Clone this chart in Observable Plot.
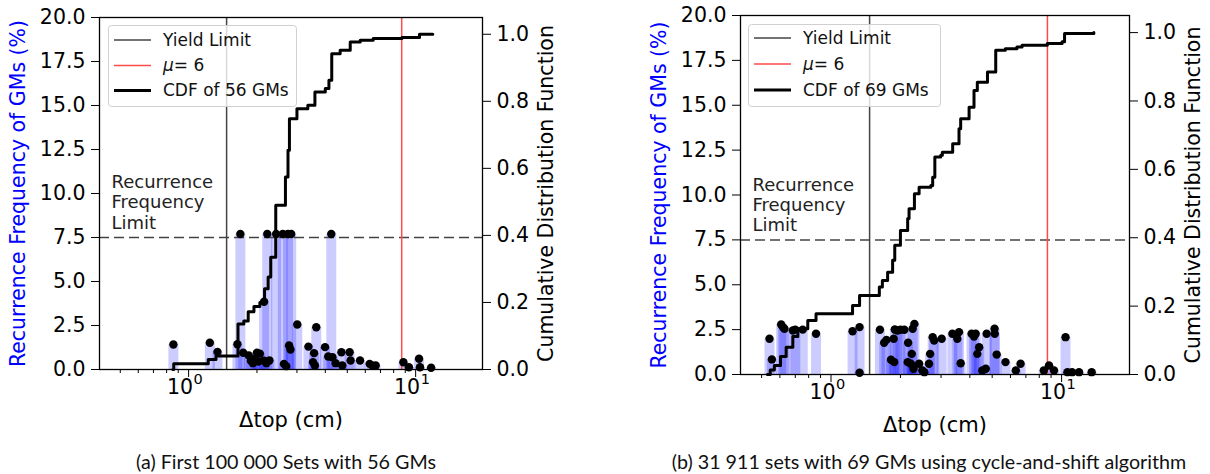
<!DOCTYPE html>
<html><head><meta charset="utf-8">
<script src="https://cdn.jsdelivr.net/npm/d3@7"></script>
<script src="https://cdn.jsdelivr.net/npm/@observablehq/plot@0.6"></script>
<style>
body{margin:0;background:#fff;}
#wrap{position:relative;width:1210px;height:474px;overflow:hidden;font-family:"DejaVu Sans";background:#fff;}
.panel{position:absolute;top:0;}
.legend{position:absolute;}
.caption{position:absolute;font-family:Lato;font-size:19.7px;line-height:24px;transform:translateX(-50%);white-space:nowrap;top:450px;color:#111;}
</style></head><body><div id="wrap"></div>
<script>
// ---------- data ----------
// Panel (a): Δtop (cm) and recurrence frequency (%) of each GM
const aDelta = [0.857,1.24,1.34,1.64,1.69,1.74,1.84,1.88,1.92,1.96,2.0,2.03,2.06,2.15,2.15,2.2,2.22,2.27,2.43,2.60,2.63,2.69,2.74,2.77,2.81,2.83,3.01,3.37,3.53,3.57,3.6,3.65,3.99,4.12,4.25,4.3,4.44,4.71,4.75,5.12,5.17,5.69,6.27,6.45,6.67,8.83,9.34,10.35,10.45,11.7];
const aFreq  = [1.42,1.52,1.0,1.44,7.7,0.95,0.8,0.5,0.36,0.6,0.95,0.45,0.9,3.85,0.5,0.36,7.7,0.51,7.7,7.7,0.32,0.19,7.7,1.36,1.14,7.7,2.56,1.3,0.42,0.93,0.23,2.4,1.27,0.74,7.7,0.7,0.36,0.98,0.23,0.98,0.51,0.51,0.32,0.23,0.23,0.41,0.13,0.61,0.13,0.1];
// Panel (a): CDF steps (Δtop, cumulative value)
const aCdfX = [0.852,0.86,1.22,1.32,1.65,1.75,1.83,1.94,2.06,2.16,2.24,2.30,2.42,2.67,2.74,2.78,3.00,3.35,3.60,4.00,4.15,4.27,4.65,5.15,5.70,6.50,8.70,10.4,11.9];
const aCdfC = [0,0.017,0.030,0.040,0.136,0.145,0.172,0.188,0.200,0.241,0.276,0.335,0.490,0.574,0.654,0.748,0.778,0.788,0.828,0.838,0.863,0.942,0.952,0.977,0.982,0.987,0.990,1.0,1.0];

// Panel (b)
const bDelta = [0.541,0.554,0.608,0.618,0.628,0.683,0.70,0.754,0.861,1.24,1.33,1.33,1.63,1.70,1.74,1.82,1.87,1.88,1.89,1.94,2.0,2.08,2.15,2.16,2.22,2.24,2.26,2.28,2.30,2.41,2.49,2.54,2.66,2.69,2.76,2.80,3.02,3.36,3.53,3.59,3.65,4.07,4.17,4.24,4.31,4.39,4.53,4.69,4.73,5.12,5.13,5.23,5.71,6.33,6.64,8.37,8.82,9.27,10.4,10.6,11.1,11.9,13.5];
const bFreq  = [1.99,0.84,2.79,2.64,2.55,2.45,2.5,2.5,2.27,2.41,2.64,0.1,2.49,1.77,1.93,0.82,1.99,0.69,2.51,2.45,2.49,2.49,0.69,1.77,0.6,1.15,2.55,0.32,2.82,0.6,0.22,0.13,0.6,1.15,2.08,1.89,1.99,2.27,1.99,2.36,0.63,2.27,2.12,2.27,1.15,1.52,0.22,0.32,2.27,2.55,2.27,1.11,0.69,0.22,0.6,0.22,0.5,0.22,2.08,0.13,0.13,0.13,0.13];
const bCdfX = [0.53,0.545,0.568,0.604,0.639,0.683,0.718,0.793,0.861,1.24,1.33,1.62,1.67,1.76,1.85,1.89,2.0,2.15,2.18,2.30,2.41,2.71,2.76,2.82,2.99,3.04,3.37,3.59,3.65,3.97,4.17,4.31,4.77,5.18,5.7,6.4,6.74,8.67,10.05,10.3,13.8];
const bCdfC = [0,0.013,0.026,0.053,0.08,0.111,0.134,0.158,0.178,0.202,0.231,0.256,0.275,0.299,0.334,0.378,0.421,0.456,0.485,0.529,0.548,0.553,0.577,0.636,0.641,0.65,0.675,0.719,0.748,0.782,0.831,0.855,0.885,0.948,0.953,0.958,0.963,0.968,0.973,0.997,1.0];

const yieldLimit = 1.47;      // cm
const muLine = 8.68;          // cm (μ = 6)
const freqLimit = 7.5;        // %
const yTicks = [0,2.5,5,7.5,10,12.5,15,17.5,20];
const cdfTicks = [0,0.2,0.4,0.6,0.8,1.0];
const xMajor = [1,10];
const xExponents = ["0","1"];
const xMinor = [0.5,0.6,0.7,0.8,0.9,2,3,4,5,6,7,8,9];
const xDomain = [0.405,19.7];
const cdfMax = 1.05;

// ---------- drawing ----------
const K = 20 / cdfMax;
const FS = 20.5;
function makePanel(cfg){
  const dots = cfg.dx.map((x,i)=>({x, f: cfg.df[i]}));
  const cdf = cfg.cx.map((x,i)=>({x, c: cfg.cc[i]}));
  return Plot.plot({
    width: cfg.width, height: 440,
    marginLeft: cfg.ml, marginRight: cfg.mr, marginTop: cfg.mt, marginBottom: 440 - cfg.bottom,
    style: {fontFamily: "DejaVu Sans", fontSize: FS + "px", color: "black", background: "transparent", overflow: "visible"},
    x: {type: "log", domain: xDomain},
    y: {domain: [0, 20]},
    marks: [
      Plot.ruleX(dots, {x: "x", y1: 0, y2: "f", stroke: "blue", strokeOpacity: 0.2, strokeWidth: 10}),
      Plot.ruleY([freqLimit], {stroke: "#444", strokeWidth: 1.5, strokeDasharray: "10,5"}),
      Plot.ruleX([yieldLimit], {stroke: "#444", strokeWidth: 1.5}),
      Plot.ruleX([muLine], {stroke: "#ff4a4a", strokeWidth: 1.5}),
      Plot.line(cdf, {x: "x", y: d => d.c * K, curve: "step-after", stroke: "black", strokeWidth: 3}),
      Plot.dot(dots, {x: "x", y: "f", r: 4.2, fill: "black"}),
      Plot.text([freqLimit], {y: d => d, text: () => "Recurrence\nFrequency\nLimit", frameAnchor: "left", textAnchor: "start", lineAnchor: "bottom", dx: 12, dy: -9, fontSize: 18, lineHeight: 1.12, fill: "#222"}),
      Plot.axisY({ticks: yTicks, tickFormat: d => d.toFixed(1), tickSize: 8, tickPadding: 6, label: null, fontSize: FS}),
      Plot.axisY({anchor: "right", ticks: cdfTicks.map(c => c * K), tickFormat: d => (d / K).toFixed(1), tickSize: 8, tickPadding: 6, label: null, fontSize: FS}),
      Plot.axisX({ticks: xMajor, tickFormat: () => "", tickSize: 8, label: null}),
      Plot.axisX({ticks: xMinor, tickFormat: () => "", tickSize: 4, label: null}),
      Plot.text(xMajor, {x: d => d, text: () => "10", frameAnchor: "bottom", textAnchor: "end", lineAnchor: "middle", dx: 4.5, dy: 18, fontSize: FS}),
      Plot.text(xMajor, {x: d => d, text: (d, i) => xExponents[i], frameAnchor: "bottom", textAnchor: "start", lineAnchor: "middle", dx: 5, dy: 10, fontSize: 14.5}),
      Plot.text(["Recurrence Frequency of GMs (%)"], {text: d => d, frameAnchor: "left", textAnchor: "middle", rotate: -90, dx: -81, fill: "blue", fontSize: FS}),
      Plot.text(["Cumulative Distribution Function"], {text: d => d, frameAnchor: "right", textAnchor: "middle", rotate: -90, dx: 64, fill: "black", fontSize: FS}),
      Plot.text(["\u0394top (cm)"], {text: d => d, frameAnchor: "bottom", textAnchor: "middle", lineAnchor: "middle", dy: 51, fontSize: 21}),
      Plot.frame({stroke: "black", strokeWidth: 1.3})
    ]
  });
}

const wrap = document.getElementById("wrap");
const pa = makePanel({dx: aDelta, df: aFreq, cx: aCdfX, cc: aCdfC, width: 600, ml: 99, mr: 118, mt: 17, bottom: 369});
pa.classList.add("panel"); pa.style.left = "0px";
const pb = makePanel({dx: bDelta, df: bFreq, cx: bCdfX, cc: bCdfC, width: 610, ml: 140, mr: 81, mt: 15, bottom: 374});
pb.classList.add("panel"); pb.style.left = "600px";
wrap.appendChild(pa); wrap.appendChild(pb);

function legend(left, top, w, h, n, rows){
  const items = [
    {label: "Yield Limit", stroke: "#444", sw: 1.5},
    {label: "<tspan font-style='italic'>\u03BC</tspan>= 6", stroke: "#ff4a4a", sw: 1.5},
    {label: "CDF of " + n + " GMs", stroke: "black", sw: 3}
  ];
  let s = `<svg class="legend" style="left:${left}px;top:${top}px" width="${w}" height="${h}" xmlns="http://www.w3.org/2000/svg">`;
  s += `<rect x="0.5" y="0.5" width="${w-1}" height="${h-1}" rx="3" fill="white" fill-opacity="0.8" stroke="#d0d0d0"/>`;
  items.forEach((it,i)=>{
    const y = rows[i];
    s += `<line x1="6" x2="43" y1="${y}" y2="${y}" stroke="${it.stroke}" stroke-width="${it.sw}"/>`;
    s += `<text x="55" y="${y}" dy="0.35em" font-family="DejaVu Sans" font-size="17" fill="#111">${it.label}</text>`;
  });
  s += `</svg>`;
  wrap.insertAdjacentHTML("beforeend", s);
}
legend(108, 25, 189, 82, 56, [15, 40.5, 65.5]);
legend(748, 24, 193, 83, 69, [14, 40, 66]);

function caption(cx, text){
  const d = document.createElement("div");
  d.className = "caption"; d.style.left = cx + "px"; d.textContent = text;
  wrap.appendChild(d);
}
caption(286, "(a) First 100\u202F000 Sets with 56 GMs");
caption(929, "(b) 31\u202F911 sets with 69 GMs using cycle-and-shift algorithm");
</script></body></html>
